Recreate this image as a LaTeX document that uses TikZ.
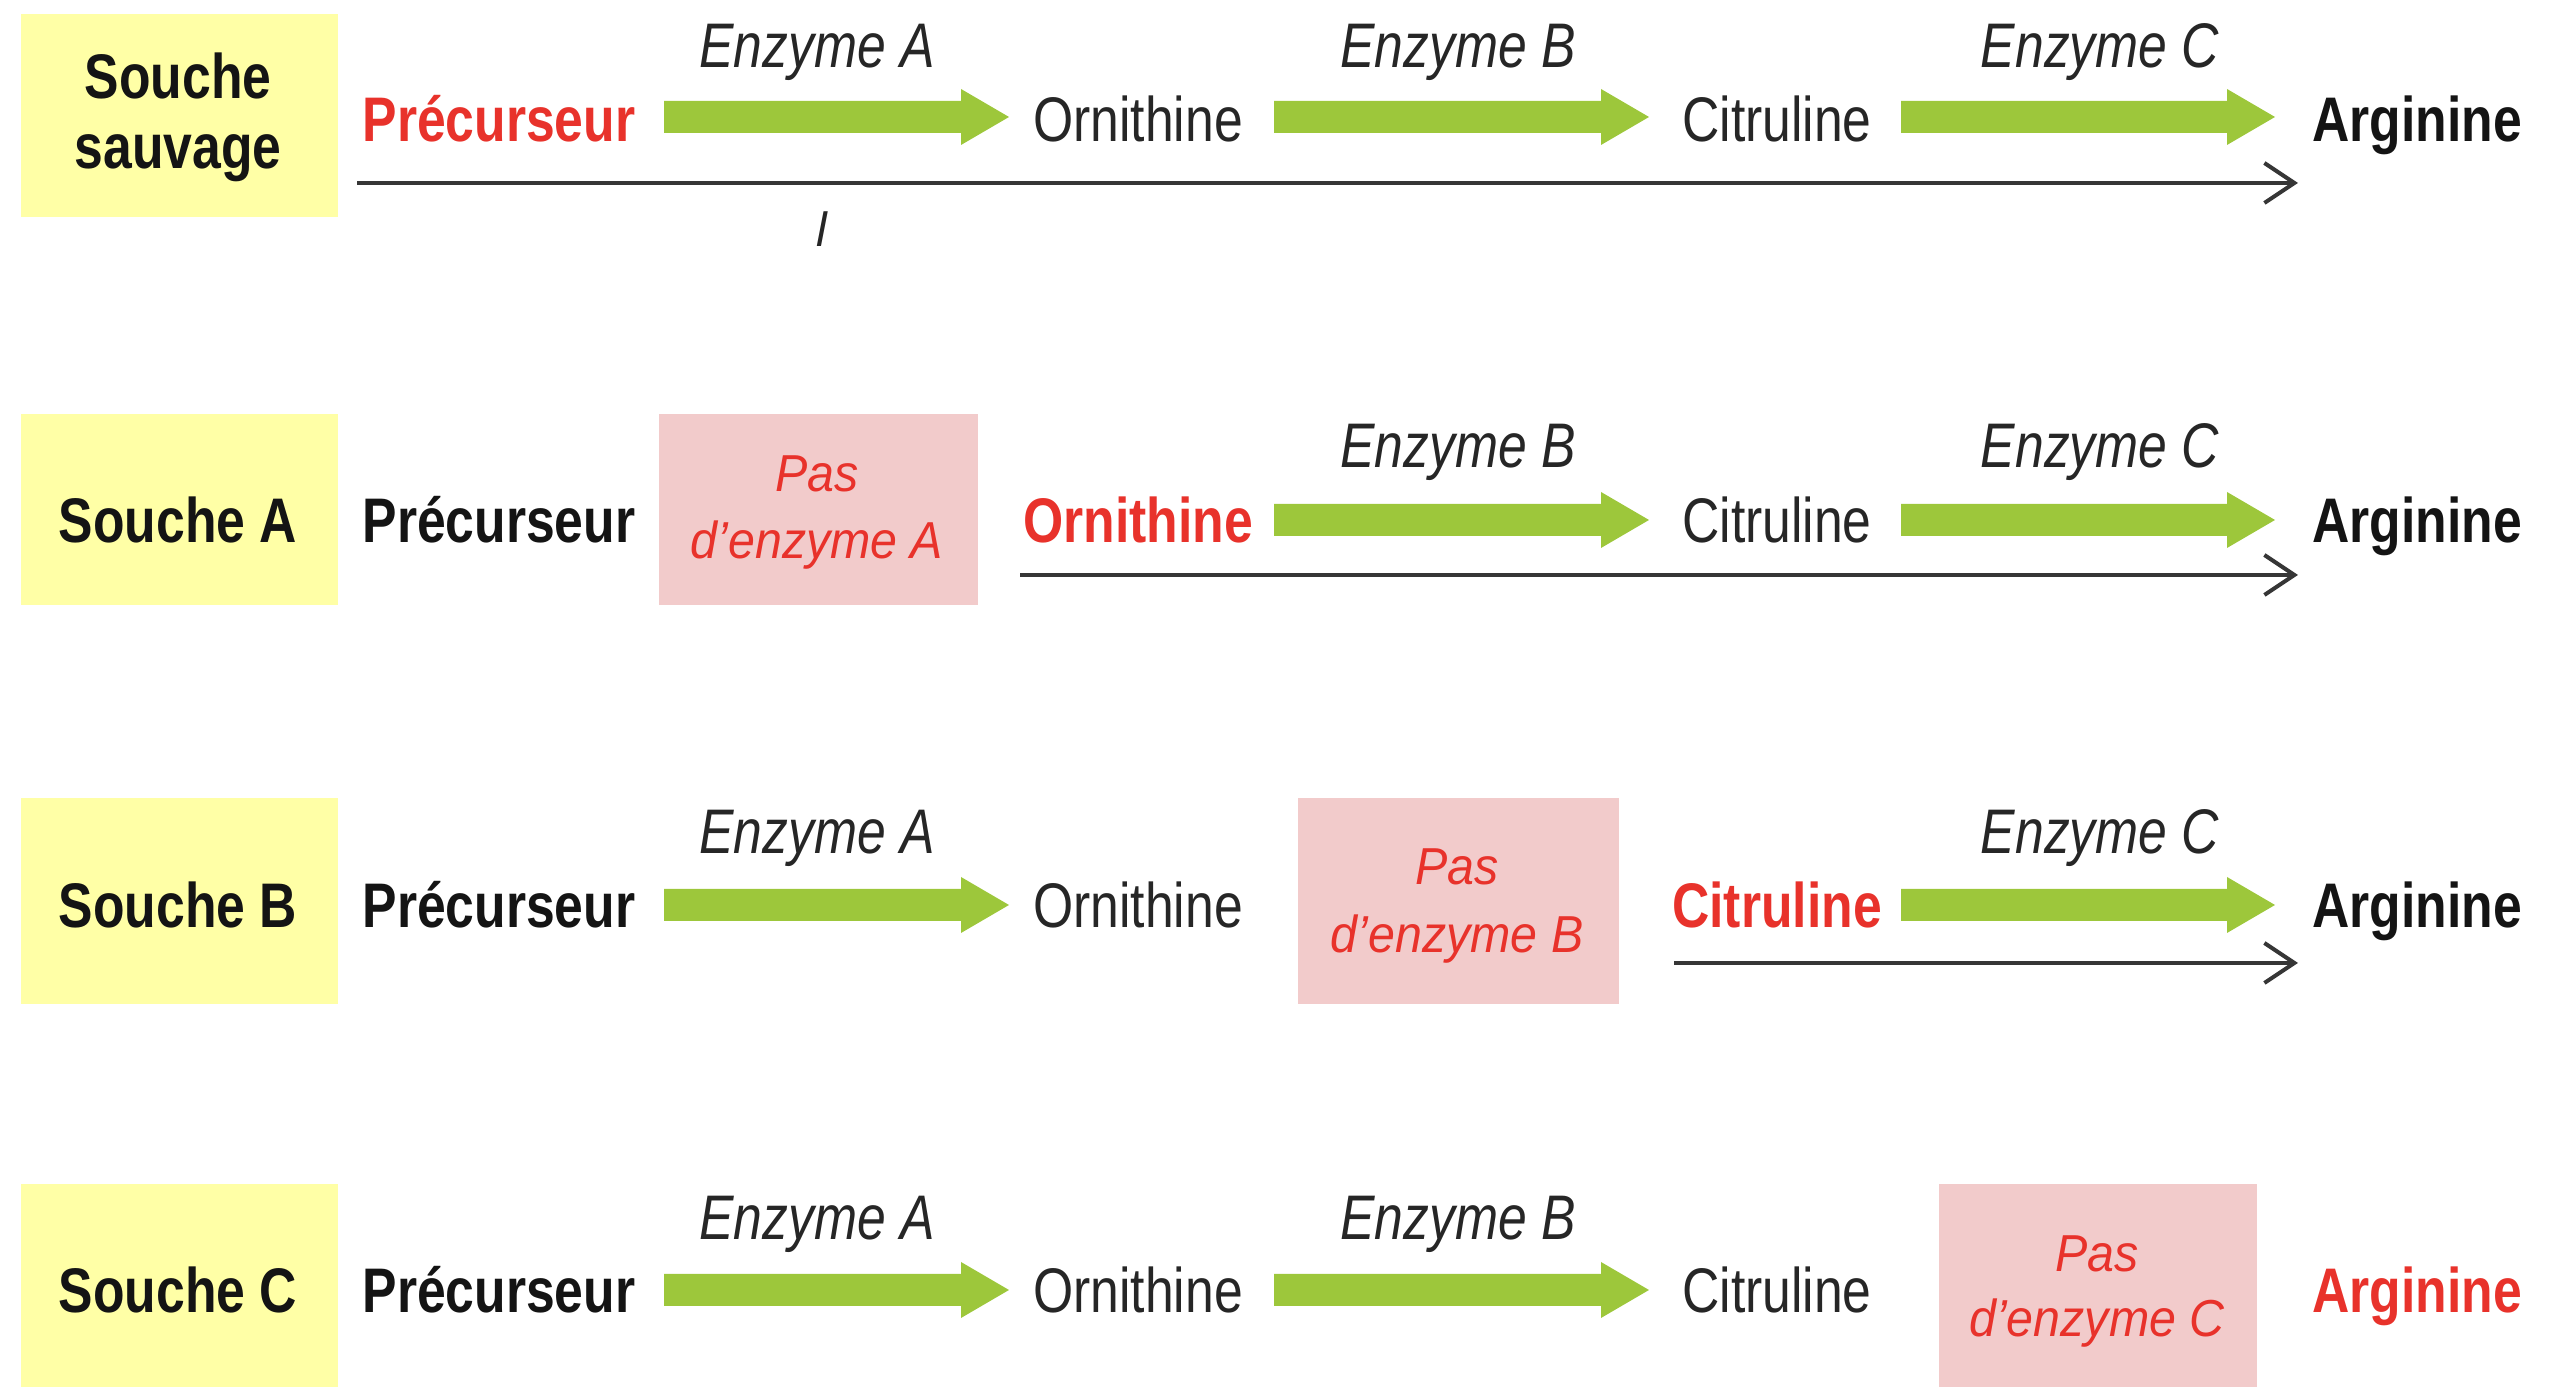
\documentclass[tikz,border=0pt]{standalone}
\usepackage{fontspec}
\setmainfont{Liberation Sans}
\newfontfamily\narrowsans{Liberation Sans}[FakeStretch=0.82]
\newfontfamily\blocksans{Liberation Sans}[FakeStretch=0.93]
\usetikzlibrary{arrows.meta}

\definecolor{strainfill}{HTML}{FFFFA6}
\definecolor{blockfill}{HTML}{F2CBCB}
\definecolor{accent}{HTML}{E8322B}
\definecolor{enzgreen}{HTML}{9DC73B}
\definecolor{ink}{HTML}{141414}
\definecolor{softink}{HTML}{262626}
\definecolor{linegray}{HTML}{363636}

\tikzset{
  box/.style={draw=none, inner sep=0pt, anchor=north west},
  strainbox/.style={box, fill=strainfill, minimum width=79.25pt},
  blockbox/.style={box, fill=blockfill},
  txt/.style={anchor=base, inner sep=0pt},
  strainlbl/.style={txt, text=ink, font=\narrowsans\bfseries\fontsize{15.75}{18}\selectfont},
  boldlbl/.style={txt, text=ink, font=\narrowsans\bfseries\fontsize{15.75}{18}\selectfont},
  keylbl/.style={txt, text=accent, font=\narrowsans\bfseries\fontsize{15.75}{18}\selectfont},
  midlbl/.style={txt, text=softink, font=\narrowsans\fontsize{15.75}{18}\selectfont},
  enzlbl/.style={txt, text=softink, font=\narrowsans\itshape\fontsize{15.75}{18}\selectfont},
  blocklbl/.style={txt, text=accent, font=\blocksans\itshape\fontsize{13}{15}\selectfont},
  pathway/.style={draw=linegray, line width=1pt, -{Straight Barb[length=7.5pt,width=10pt]}},
  pics/fatarrow/.style={code={
    \fill[enzgreen] (0,-16) -- (#1-48,-16) -- (#1-48,-28) -- (#1,0)
      -- (#1-48,28) -- (#1-48,16) -- (0,16) -- cycle;}}
}

\begin{document}
\begin{tikzpicture}[x=0.25pt, y=-0.25pt]
\useasboundingbox (0,0) rectangle (2552,1387);

% ---------- wild-type strain ----------
\node[strainbox, minimum height=50.75pt] (s1) at (20,13) {};
\node[strainlbl] (s1a) at (178,99) {Souche};
\node[strainlbl] (s1b) at (178,169) {sauvage};
\node[keylbl]  (p1) at (499,142) {Précurseur};
\pic (g1a) at (664,117) {fatarrow=345};
\node[enzlbl]  (e1a) at (817,68) {Enzyme A};
\node[midlbl]  (o1) at (1138,142) {Ornithine};
\pic (g1b) at (1274,117) {fatarrow=375};
\node[enzlbl]  (e1b) at (1458,68) {Enzyme B};
\node[midlbl]  (c1) at (1777,142) {Citruline};
\pic (g1c) at (1901,117) {fatarrow=374};
\node[enzlbl]  (e1c) at (2100,68) {Enzyme C};
\node[boldlbl] (r1) at (2417,142) {Arginine};
\coordinate (t1s) at (357,183);
\coordinate (t1e) at (2298,183);
\draw[pathway] (t1s) -- (t1e);
\node[txt, text=softink, font=\itshape\fontsize{12}{14}\selectfont] (m1) at (822,247) {l};

% ---------- strain A ----------
\node[strainbox, minimum height=47.75pt] (s2) at (20,413) {};
\node[strainlbl] (s2a) at (178,543) {Souche A};
\node[boldlbl] (p2) at (499,543) {Précurseur};
\node[blockbox, minimum width=79.75pt, minimum height=47.75pt] (k2) at (658,413) {};
\node[blocklbl] (k2a) at (817,492) {Pas};
\node[blocklbl] (k2b) at (817,559) {d’enzyme A};
\node[keylbl]  (o2) at (1138,543) {Ornithine};
\pic (g2b) at (1274,520) {fatarrow=375};
\node[enzlbl]  (e2b) at (1458,468) {Enzyme B};
\node[midlbl]  (c2) at (1777,543) {Citruline};
\pic (g2c) at (1901,520) {fatarrow=374};
\node[enzlbl]  (e2c) at (2100,468) {Enzyme C};
\node[boldlbl] (r2) at (2417,543) {Arginine};
\coordinate (t2s) at (1020,575);
\coordinate (t2e) at (2298,575);
\draw[pathway] (t2s) -- (t2e);

% ---------- strain B ----------
\node[strainbox, minimum height=51.5pt] (s3) at (20,797) {};
\node[strainlbl] (s3a) at (178,928) {Souche B};
\node[boldlbl] (p3) at (499,928) {Précurseur};
\pic (g3a) at (664,905) {fatarrow=345};
\node[enzlbl]  (e3a) at (817,854) {Enzyme A};
\node[midlbl]  (o3) at (1138,928) {Ornithine};
\node[blockbox, minimum width=80.25pt, minimum height=51.5pt] (k3) at (1297,797) {};
\node[blocklbl] (k3a) at (1457,885) {Pas};
\node[blocklbl] (k3b) at (1457,953) {d’enzyme B};
\node[keylbl]  (c3) at (1777,928) {Citruline};
\pic (g3c) at (1901,905) {fatarrow=374};
\node[enzlbl]  (e3c) at (2100,854) {Enzyme C};
\node[boldlbl] (r3) at (2417,928) {Arginine};
\coordinate (t3s) at (1674,963);
\coordinate (t3e) at (2298,963);
\draw[pathway] (t3s) -- (t3e);

% ---------- strain C ----------
\node[strainbox, minimum height=51pt] (s4) at (20,1183) {};
\node[strainlbl] (s4a) at (178,1313) {Souche C};
\node[boldlbl] (p4) at (499,1313) {Précurseur};
\pic (g4a) at (664,1290) {fatarrow=345};
\node[enzlbl]  (e4a) at (817,1240) {Enzyme A};
\node[midlbl]  (o4) at (1138,1313) {Ornithine};
\pic (g4b) at (1274,1290) {fatarrow=375};
\node[enzlbl]  (e4b) at (1458,1240) {Enzyme B};
\node[midlbl]  (c4) at (1777,1313) {Citruline};
\node[blockbox, minimum width=79.5pt, minimum height=51pt] (k4) at (1938,1183) {};
\node[blocklbl] (k4a) at (2097,1272) {Pas};
\node[blocklbl] (k4b) at (2097,1337) {d’enzyme C};
\node[keylbl]  (r4) at (2417,1313) {Arginine};
\end{tikzpicture}
\end{document}
